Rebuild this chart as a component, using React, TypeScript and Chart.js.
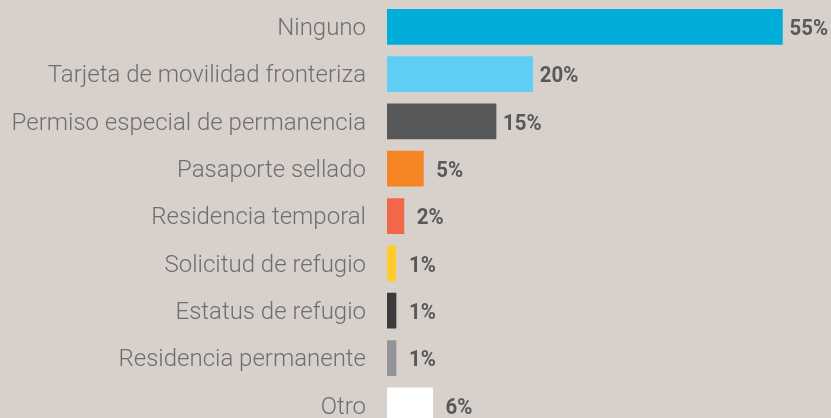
import React, { useEffect, useRef } from "react";
import { Chart, registerables } from "chart.js";

Chart.register(...registerables);

const categories = [
  "Ninguno",
  "Tarjeta de movilidad fronteriza",
  "Permiso especial de permanencia",
  "Pasaporte sellado",
  "Residencia temporal",
  "Solicitud de refugio",
  "Estatus de refugio",
  "Residencia permanente",
  "Otro",
];
const values = [55, 20.3, 15.2, 5.1, 2.4, 1.3, 1.3, 1.3, 6.4];
const valueLabels = ["55%", "20%", "15%", "5%", "2%", "1%", "1%", "1%", "6%"];
const barColors = [
  "#00aed9",
  "#5fcef5",
  "#56585a",
  "#f58423",
  "#f26649",
  "#ffcb2f",
  "#3c3a3a",
  "#939598",
  "#ffffff",
];

const BG = "#d8d1cb";

const labelsPlugin = {
  id: "labelsPlugin",
  afterDatasetsDraw(chart: any) {
    const ctx = chart.ctx;
    const meta = chart.getDatasetMeta(0);
    const yScale = chart.scales.y;
    const left = chart.chartArea.left;
    ctx.save();
    // category labels
    ctx.fillStyle = "#6d6e71";
    ctx.font = "300 24px Roboto";
    ctx.textAlign = "right";
    ctx.textBaseline = "alphabetic";
    categories.forEach((c, i) => {
      const y = yScale.getPixelForValue(i);
      ctx.fillText(c, left - 21, y + 8.3);
    });
    // value labels
    ctx.fillStyle = "#58595b";
    ctx.font = "bold 22px Roboto";
    ctx.textAlign = "center";
    meta.data.forEach((bar: any, i: number) => {
      const cx = bar.x + 26;
      const cy = bar.y + 8.2;
      ctx.save();
      ctx.translate(cx, cy);
      ctx.scale(0.93, 1);
      ctx.fillText(valueLabels[i], 0, 0);
      ctx.restore();
    });
    ctx.restore();
  },
};

export default function App() {
  const ref = useRef<HTMLCanvasElement | null>(null);

  useEffect(() => {
    document.body.style.margin = "0";
    document.body.style.overflow = "hidden";
    document.body.style.background = BG;
    const canvas = ref.current;
    if (!canvas) return;
    const chart = new Chart(canvas, {
      type: "bar",
      data: {
        labels: categories,
        datasets: [
          {
            data: values,
            backgroundColor: barColors,
            borderWidth: 0,
            categoryPercentage: 1,
            barPercentage: 0.755,
          },
        ],
      },
      options: {
        indexAxis: "y",
        responsive: false,
        animation: false,
        layout: { padding: { top: 3.1, right: 12.3, bottom: 0, left: 0 } },
        plugins: {
          legend: { display: false },
          tooltip: { enabled: false },
        },
        scales: {
          x: {
            display: false,
            min: 0,
            max: 60,
          },
          y: {
            grid: { display: false, drawTicks: false },
            border: { display: false },
            afterFit(scale: any) {
              scale.width = 387;
              scale.paddingTop = 0;
              scale.paddingBottom = 0;
            },
            ticks: {
              display: false,
            },
          },
        },
      },
      plugins: [labelsPlugin],
    });
    return () => chart.destroy();
  }, []);

  return (
    <div style={{ width: 831, height: 418, overflow: "hidden", background: BG }}>
      <canvas ref={ref} width={831} height={429} style={{ display: "block" }} />
    </div>
  );
}
